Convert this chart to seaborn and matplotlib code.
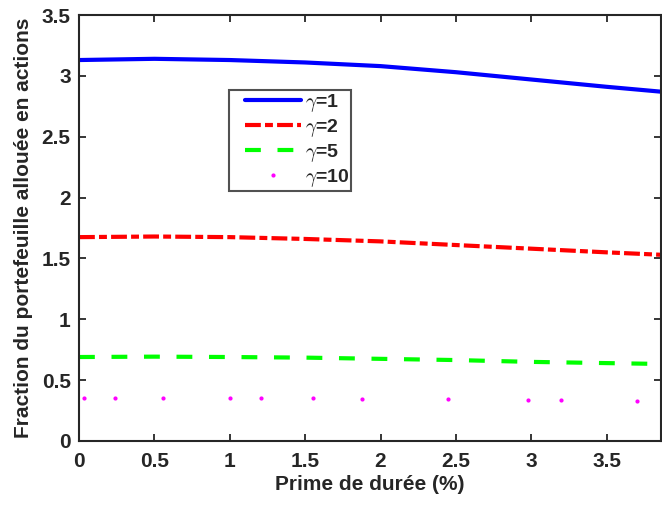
import matplotlib
matplotlib.use("Agg")
import matplotlib.pyplot as plt
import seaborn as sns
import pandas as pd
from matplotlib.legend_handler import HandlerLine2D

sns.set_style("ticks")
plt.rcParams['font.family'] = ['Liberation Sans', 'DejaVu Sans']
plt.rcParams['font.weight'] = 'bold'
plt.rcParams['mathtext.fontset'] = 'cm'

x_lines = [0.0, 0.5, 1.0, 1.5, 2.0, 2.5, 3.0, 3.5, 3.86]
gamma1 = [3.13, 3.14, 3.13, 3.11, 3.08, 3.03, 2.97, 2.91, 2.87]
gamma2 = [1.675, 1.68, 1.675, 1.66, 1.64, 1.61, 1.58, 1.55, 1.53]
gamma5 = [0.69, 0.693, 0.69, 0.685, 0.675, 0.665, 0.65, 0.64, 0.633]
x_dots = [0.03, 0.24, 0.56, 1.0, 1.21, 1.55, 1.88, 2.45, 2.98, 3.2, 3.7]
gamma10 = [0.355, 0.355, 0.355, 0.353, 0.352, 0.35, 0.348, 0.343, 0.338, 0.335, 0.33]
labels = [r'$\gamma$=1', r'$\gamma$=2', r'$\gamma$=5', r'$\gamma$=10']
xticks = [0, 0.5, 1, 1.5, 2, 2.5, 3, 3.5]
yticks = [0, 0.5, 1, 1.5, 2, 2.5, 3, 3.5]


class ShiftHandler(HandlerLine2D):
    def __init__(self, shift, **kw):
        super().__init__(**kw)
        self.shift = shift

    def create_artists(self, legend, orig_handle, xdescent, ydescent, width,
                       height, fontsize, trans):
        return super().create_artists(legend, orig_handle, xdescent - self.shift,
                                      ydescent, width - self.shift, height,
                                      fontsize, trans)


fig = plt.figure(figsize=(6.62, 5.08), dpi=100)
ax = fig.add_axes([79/662, 67/508, 582/662, 426/508])

LW = 3.0
sns.lineplot(x=x_lines, y=gamma1, ax=ax, color='#0000ff', lw=LW, label=labels[0])
sns.lineplot(x=x_lines, y=gamma2, ax=ax, color='#ff0000', lw=LW, label=labels[1],
             linestyle=(0, (3.8, 1.0, 1.9, 1.0)))
sns.lineplot(x=x_lines, y=gamma5, ax=ax, color='#00ff00', lw=LW, label=labels[2],
             linestyle=(0, (3.8, 4.0)))
ax.plot(x_dots, gamma10, linestyle='none', marker='o', markersize=2,
        color='#ff00ff', label=labels[3])

ax.set_xlim(0, 3.86)
ax.set_ylim(0, 3.5)
ax.set_xticks(xticks)
ax.set_yticks(yticks)
ax.set_xticklabels([f'{t:g}' for t in xticks])
ax.set_yticklabels([f'{t:g}' for t in yticks])
ax.tick_params(direction='in', top=True, right=True, length=5, width=1.3,
               labelsize=15, color='#262626', labelcolor='#262626')
ax.tick_params(axis='x', pad=8)
ax.tick_params(axis='y', pad=6)
for s in ax.spines.values():
    s.set_linewidth(1.5)
    s.set_color('#262626')
    s.set_visible(True)
ax.set_xlabel('Prime de durée (%)', fontsize=15, fontweight='bold', color='#262626', labelpad=3)
ax.set_ylabel('Fraction du portefeuille allouée en actions', fontsize=15,
              fontweight='bold', color='#262626', labelpad=6)

handles, labs = ax.get_legend_handles_labels()
leg = ax.legend(handles, labs, loc='upper left', bbox_to_anchor=(0.258, 0.824),
                frameon=True, fancybox=False, edgecolor='#262626', fontsize=14,
                handlelength=3.6, borderpad=0.1, labelspacing=0.16,
                handletextpad=0.2, borderaxespad=0,
                handler_map={h: ShiftHandler(10) for h in handles})
leg.get_frame().set_linewidth(1.5)
for t in leg.get_texts():
    t.set_fontweight('bold')

fig.savefig('out.png', dpi=100)
